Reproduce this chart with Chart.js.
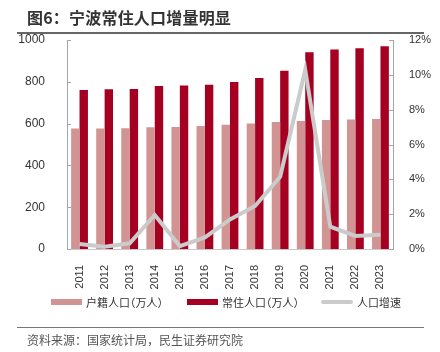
<!DOCTYPE html>
<html>
<head>
<meta charset="utf-8">
<script src="https://cdn.jsdelivr.net/npm/chart.js@4/dist/chart.umd.min.js"></script>
<style>
  body { margin: 0; background: #fff; width: 440px; height: 352px; position: relative; overflow: hidden;
         font-family: "Liberation Sans", "Noto Sans CJK SC", sans-serif; }
  #title { position: absolute; left: 27px; top: 5px; font-size: 16px; font-weight: bold; color: #333;
           font-family: "Noto Sans CJK SC", sans-serif; letter-spacing: 0.2px; }
  #topline { position: absolute; left: 17px; top: 32px; width: 407px; height: 2px; background: #666; }
  #botline { position: absolute; left: 17px; top: 327px; width: 407px; height: 1px; background: #777; }
  #source { position: absolute; left: 27px; top: 331px; font-size: 12px; color: #555;
            font-family: "Noto Sans CJK SC", sans-serif; }
  #wrap { position: absolute; left: 0; top: 0; width: 440px; height: 320px; }
  .lg-box { position: absolute; top: 299px; width: 31px; height: 6px; }
  .lg-box.line { top: 300px; left: 321px; width: 32px; height: 4px; border-radius: 2px; }
  .lg-txt { position: absolute; top: 294px; font-size: 11px; color: #333; line-height: 16px;
            font-family: "Noto Sans CJK SC", sans-serif; white-space: nowrap;
            font-feature-settings: "halt"; }
</style>
</head>
<body>
<div id="wrap"><canvas id="chart" width="440" height="320"></canvas></div>
<div id="title">图6：宁波常住人口增量明显</div>
<div id="topline"></div>
<div id="legend"></div>
<div id="botline"></div>
<div id="source">资料来源：国家统计局，民生证券研究院</div>
<script>
// 数据
const years = ['2011', '2012', '2013', '2014', '2015', '2016', '2017', '2018', '2019', '2020', '2021', '2022', '2023'];
const huji = [576, 577, 578, 582, 584, 589, 595, 601, 608, 612, 617, 620, 622];          // 户籍人口（万人）
const changzhu = [761, 764, 766, 780, 782, 786, 799, 818, 853, 941, 954, 961, 970];      // 常住人口（万人）
const growth = [0.29, 0.13, 0.33, 1.95, 0.17, 0.67, 1.7, 2.47, 4.15, 10.28, 1.28, 0.75, 0.82]; // 人口增速 %

const axisColor = '#a6a6a6';
const textColor = '#333';

// draw small inward tick marks on both y axes
const innerTicks = {
  id: 'innerTicks',
  afterDraw(chart) {
    const ctx = chart.ctx;
    ctx.save();
    ctx.strokeStyle = axisColor;
    ctx.lineWidth = 1;
    ['y', 'y1'].forEach(id => {
      const s = chart.scales[id];
      const x = id === 'y' ? s.right : s.left;
      const dir = id === 'y' ? 1 : -1;
      s.ticks.forEach(t => {
        const py = Math.round(s.getPixelForValue(t.value)) + 0.5;
        ctx.beginPath();
        ctx.moveTo(x, py);
        ctx.lineTo(x + dir * 4, py);
        ctx.stroke();
      });
    });
    ctx.restore();
  }
};

const chart = new Chart(document.getElementById('chart'), {
  type: 'bar',
  data: {
    labels: years,
    datasets: [
      {
        label: '户籍人口（万人）',
        data: huji,
        backgroundColor: '#d29393',
        yAxisID: 'y',
        order: 1,
        barPercentage: 1.0,
        categoryPercentage: 0.67
      },
      {
        label: '常住人口（万人）',
        data: changzhu,
        backgroundColor: '#a50021',
        yAxisID: 'y',
        order: 1,
        barPercentage: 1.0,
        categoryPercentage: 0.67
      },
      {
        type: 'line',
        label: '人口增速',
        data: growth,
        borderColor: '#cbcbcb',
        backgroundColor: '#cbcbcb',
        borderWidth: 4,
        pointRadius: 0,
        tension: 0,
        yAxisID: 'y1',
        order: 0
      }
    ]
  },
  options: {
    responsive: false,
    animation: false,
    layout: { padding: { top: 40, left: 0, right: 0, bottom: 31 } },
    plugins: {
      tooltip: { enabled: false },
      legend: { display: false }
    },
    scales: {
      x: {
        grid: { display: false },
        border: { display: true, color: '#c8c8c8' },
        ticks: {
          color: textColor,
          font: { size: 11 },
          minRotation: 90,
          maxRotation: 90,
          padding: 8
        },
        afterFit(scale) { scale.height = 40; }
      },
      y: {
        position: 'left',
        min: 0,
        max: 1000,
        grid: { display: false },
        border: { display: true, color: axisColor },
        ticks: { stepSize: 200, color: textColor, font: { size: 12 }, padding: 14,
                 callback: v => String(v) },
        afterFit(scale) { scale.width = 67; }
      },
      y1: {
        position: 'right',
        min: 0,
        max: 12,
        grid: { display: false },
        border: { display: true, color: axisColor },
        ticks: { stepSize: 2, color: textColor, font: { size: 11 }, padding: 8,
                 callback: v => v + '%' },
        afterFit(scale) { scale.width = 47; }
      }
    }
  },
  plugins: [innerTicks]
});

// legend built from the datasets
const legendPos = [[51, 86], [187, 222], [321, 357]];
const legendEl = document.getElementById('legend');
chart.data.datasets.forEach((ds, i) => {
  const box = document.createElement('div');
  box.className = 'lg-box' + (ds.type === 'line' ? ' line' : '');
  box.style.left = legendPos[i][0] + 'px';
  box.style.background = ds.backgroundColor;
  const txt = document.createElement('div');
  txt.className = 'lg-txt';
  txt.style.left = legendPos[i][1] + 'px';
  txt.textContent = ds.label;
  legendEl.appendChild(box);
  legendEl.appendChild(txt);
});
</script>
</body>
</html>
